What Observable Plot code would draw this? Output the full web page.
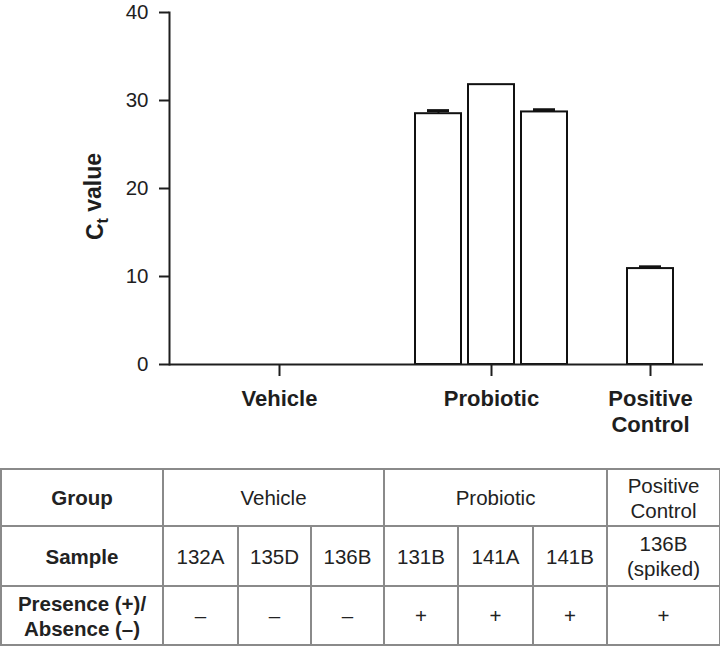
<!DOCTYPE html>
<html>
<head>
<meta charset="utf-8">
<script src="https://cdn.jsdelivr.net/npm/d3@7"></script>
<script src="https://cdn.jsdelivr.net/npm/@observablehq/plot@0.6"></script>
<style>
  html, body { margin: 0; padding: 0; background: #fff; }
  body { width: 720px; font-family: "Liberation Sans", Arial, Helvetica, sans-serif; color: #1e1e1e; }
  #chart svg { display: block; }
  table.tbl { border-collapse: collapse; table-layout: fixed; width: 719px; margin-top: 28px; margin-left: 0px; font-size: 20.5px; line-height: 25px; color: #222; }
  table.tbl td { border: 2px solid #8a8a8a; text-align: center; vertical-align: middle; padding: 0; }
  table.tbl td.hdr { font-weight: bold; }
</style>
</head>
<body>
<div id="chart"></div>
<div id="table"></div>
<script>
// ---- data ----
const groups = ["Vehicle", "Probiotic", "Positive Control"];
const samples = ["132A", "135D", "136B", "131B", "141A", "141B", "136B (spiked)"];
const sampleGroup = ["Vehicle", "Vehicle", "Vehicle", "Probiotic", "Probiotic", "Probiotic", "Positive Control"];
const ctValues = [null, null, null, 28.5, 31.8, 28.7, 10.9];
const ctErrors = [null, null, null, 0.35, 0, 0.25, 0.2];
const presence = ["–", "–", "–", "+", "+", "+", "+"];
const yTicks = [0, 10, 20, 30, 40];
const yLabel = "Ct value";
const rowHeaders = ["Group", "Sample", "Presence (+)/\nAbsence (–)"];
const groupAxisLabels = ["Vehicle", "Probiotic", "Positive\nControl"];

// ---- build ----
const rows = samples.map((s, i) => ({sample: s, group: sampleGroup[i], ct: ctValues[i], err: ctErrors[i]}));
// x domain: samples by group with a spacer slot between groups
const domain = [];
groups.forEach((g, gi) => {
  if (gi > 0) domain.push("gap" + gi);
  samples.forEach((s, i) => { if (sampleGroup[i] === g) domain.push(s); });
});
// group tick at the middle sample of each group
const groupTicks = groups.map(g => {
  const ss = samples.filter((s, i) => sampleGroup[i] === g);
  return ss[Math.floor(ss.length / 2)];
});
const tickLabel = new Map(groupTicks.map((s, i) => [s, groupAxisLabels[i]]));

const bars = rows.filter(d => d.ct != null);
const errs = bars.filter(d => d.err > 0);

const plot = Plot.plot({
  width: 720,
  height: 440,
  marginLeft: 169,
  marginRight: 17,
  marginTop: 12,
  marginBottom: 76,
  style: {fontFamily: '"Liberation Sans", Arial, Helvetica, sans-serif', fontSize: "20px", color: "#1e1e1e", background: "#fff"},
  x: {type: "band", domain, paddingInner: 0.125, paddingOuter: 0, insetLeft: 31, insetRight: 26, label: null},
  y: {domain: [0, 40], label: null},
  marks: [
    Plot.barY(bars, {x: "sample", y: "ct", fill: "white", stroke: "#111", strokeWidth: 2}),
    Plot.ruleX(errs, {x: "sample", y1: "ct", y2: d => d.ct + d.err, stroke: "#111", strokeWidth: 2}),
    Plot.tickY(errs, {x: "sample", y: d => d.ct + d.err, stroke: "#111", strokeWidth: 3, insetLeft: 12, insetRight: 12}),
    Plot.axisY({ticks: yTicks, tickSize: 10, tickPadding: 11, fontSize: 20.5, strokeWidth: 2, stroke: "#1e1e1e", label: null}),
    Plot.axisX({ticks: groupTicks, tickFormat: d => tickLabel.get(d), tickSize: 12, tickPadding: 10, fontSize: 22, fontWeight: "bold", lineHeight: 1.22, strokeWidth: 2, stroke: "#1e1e1e", label: null}),
    Plot.frame({anchor: "left", stroke: "#1e1e1e", strokeWidth: 2}),
    Plot.ruleY([0], {stroke: "#1e1e1e", strokeWidth: 2}),
    Plot.text([yLabel], {text: d => d, frameAnchor: "left", rotate: -90, dx: -74, dy: 8, fontSize: 23, fontWeight: "bold", fill: "#1e1e1e", textAnchor: "middle"})
  ]
});
document.getElementById("chart").appendChild(plot);

// subscript "t" in the y label
d3.select(plot).selectAll("text").filter(function() { return this.textContent === yLabel; }).each(function() {
  const t = d3.select(this);
  t.text(null);
  t.append("tspan").text("C");
  t.append("tspan").attr("dy", "0.3em").attr("font-size", "16px").text("t");
  t.append("tspan").attr("dy", "-0.3em").text(" value");
});

// ---- table ----
const widths = [162, 75, 73, 73, 74, 75, 74, 113];
const table = d3.select("#table").append("table").attr("class", "tbl");
const cg = table.append("colgroup");
widths.forEach(w => cg.append("col").style("width", w + "px"));
const fmt = s => s.replace(" (", "\n(");
const br = sel => sel.each(function(d) {
  const parts = String(d).split("\n");
  const el = d3.select(this);
  parts.forEach((p, i) => { if (i) el.append("br"); el.append(() => document.createTextNode(p)); });
});
// row 1: groups
const r1 = table.append("tr").style("height", "57px");
r1.append("td").attr("class", "hdr").datum(rowHeaders[0]).call(br);
groups.forEach(g => {
  const n = sampleGroup.filter(x => x === g).length;
  r1.append("td").attr("colspan", n).datum(g === "Positive Control" ? "Positive\nControl" : g).call(br);
});
// row 2: samples
const r2 = table.append("tr").style("height", "60px");
r2.append("td").attr("class", "hdr").datum(rowHeaders[1]).call(br);
samples.forEach(s => r2.append("td").datum(fmt(s)).call(br));
// row 3: presence
const r3 = table.append("tr").style("height", "59px");
r3.append("td").attr("class", "hdr").datum(rowHeaders[2]).call(br);
presence.forEach(p => r3.append("td").datum(p).call(br));
</script>
</body>
</html>
